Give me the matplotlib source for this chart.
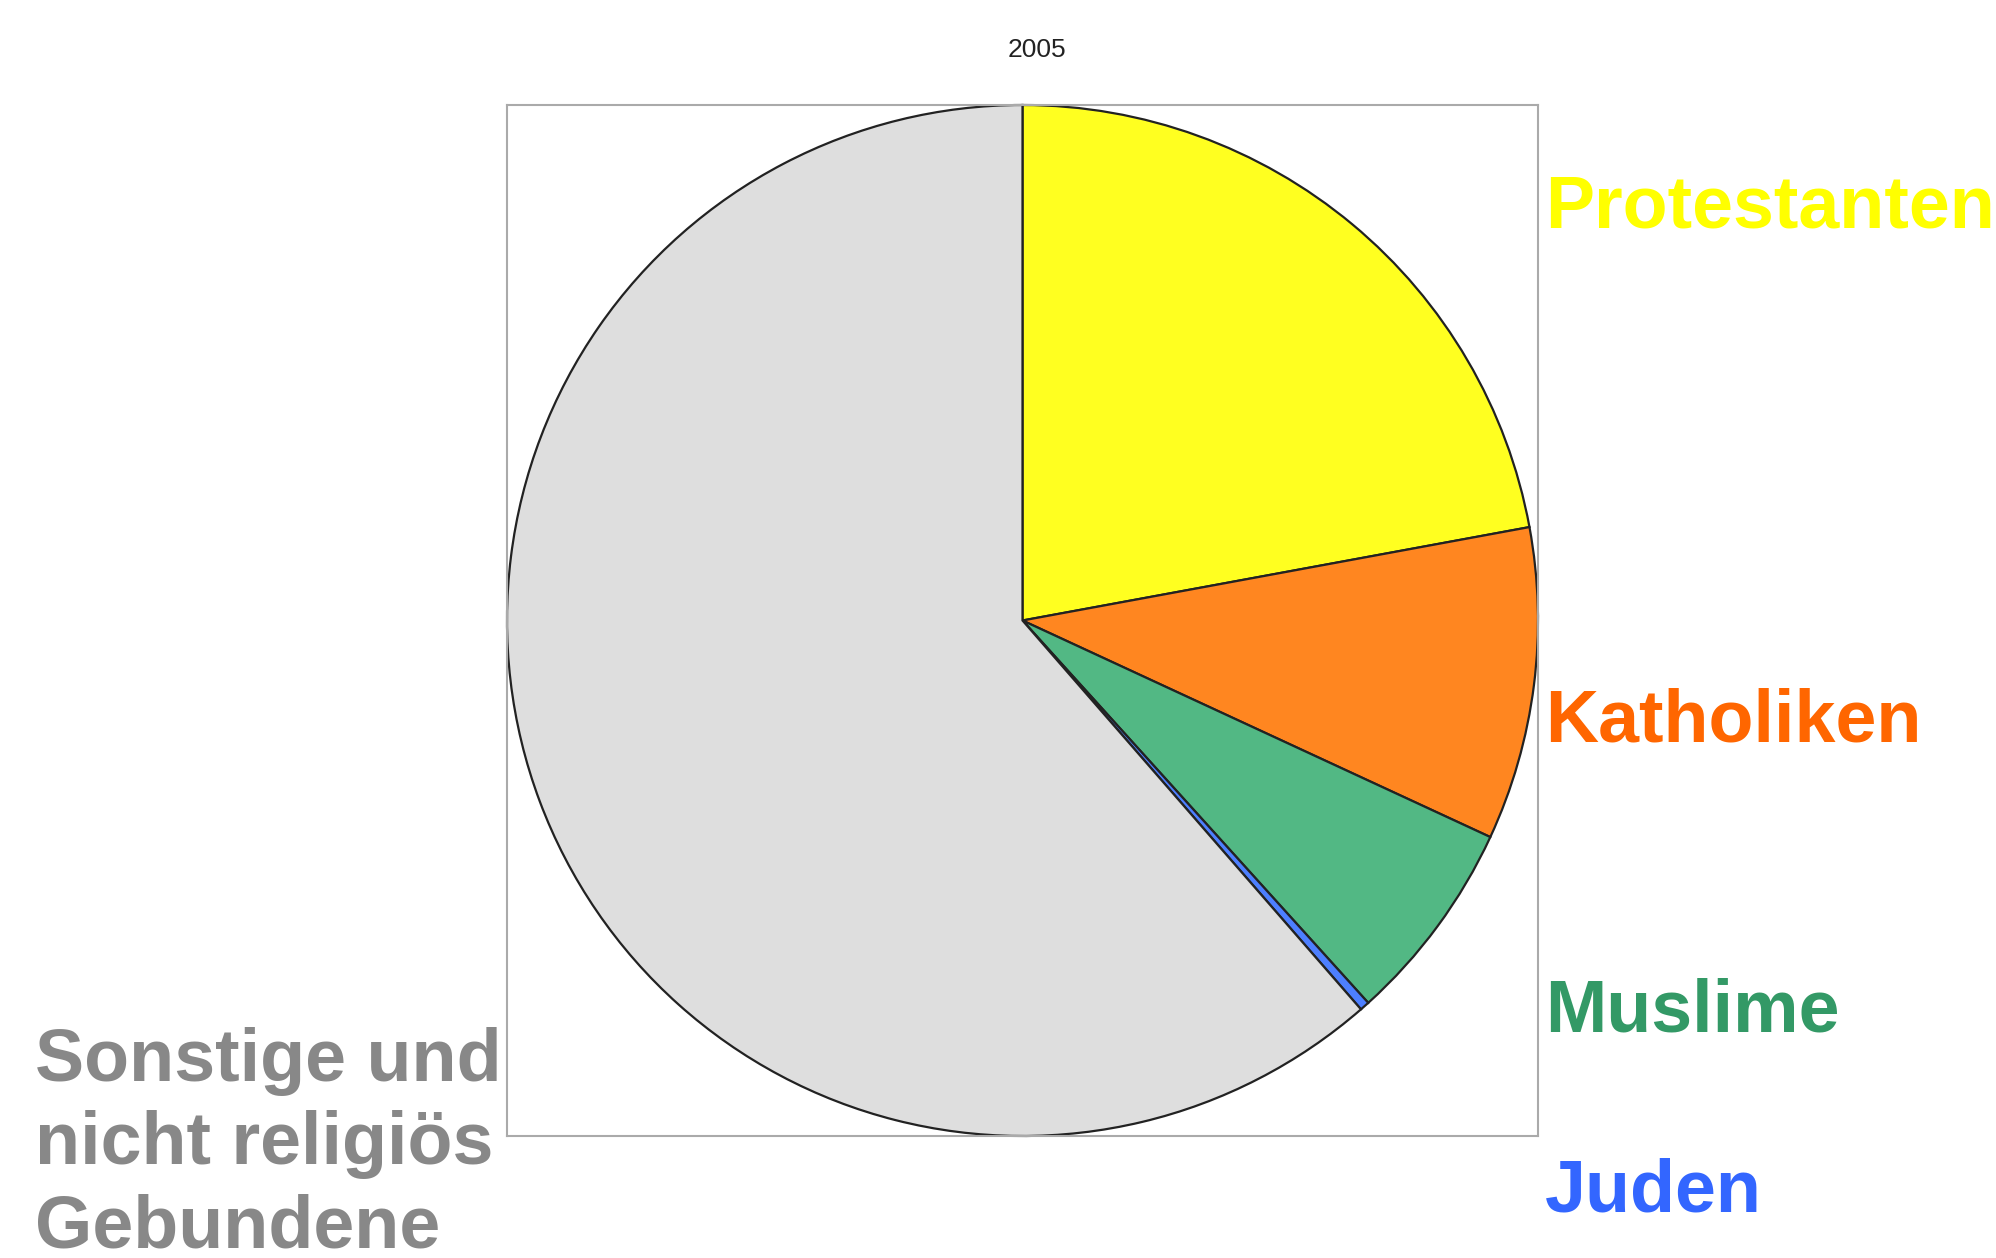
import matplotlib
matplotlib.use('Agg')
import matplotlib.pyplot as plt

plt.rcParams['font.family'] = ['Liberation Sans', 'DejaVu Sans']

# Berlin, Religionszugehoerigkeit 2005 (Anteile in %)
labels = ['Protestanten', 'Katholiken', 'Muslime', 'Juden',
          'Sonstige und\nnicht religiös\nGebundene']
shares = [22.1, 9.8, 6.4, 0.3, 61.4]
wedge_colors = ['#ffff20', '#ff8620', '#52b884', '#4d7fff', '#dedede']
text_colors = ['#ffff00', '#ff6600', '#339966', '#3366ff', '#888888']

W, H = 1996, 1258
fig = plt.figure(figsize=(W / 100, H / 100), dpi=100)
fig.patch.set_facecolor('white')

# axes box in pixels: x 507..1538, y 105..1136
ax = fig.add_axes([507 / W, 1 - 1136 / H, 1031 / W, 1031 / H])
ax.pie(shares, colors=wedge_colors, startangle=90, counterclock=False,
       radius=1, wedgeprops=dict(edgecolor='#222222', linewidth=1.6))
ax.set_xlim(-1, 1)
ax.set_ylim(-1, 1)
ax.set_aspect('equal')
ax.set_xticks([])
ax.set_yticks([])
ax.set_frame_on(True)
ax.patch.set_visible(False)
for s in ax.spines.values():
    s.set_visible(True)
    s.set_color('#aaaaaa')
    s.set_linewidth(1.5)

fig.text(1037 / W, 1 - 50 / H, '2005', ha='center', va='center',
         fontsize=19, color='#222222')

# label positions (left x, baseline of last line y) in pixels
pos = [(1545, 228), (1545, 741), (1545, 1031), (1545, 1212), (35, 1247)]
for lab, col, (x, y) in zip(labels, text_colors, pos):
    fig.text(x / W, 1 - y / H, lab, ha='left', va='baseline',
             fontsize=53, fontweight='bold', color=col, linespacing=1.26)

fig.savefig('out.png', dpi=100)
